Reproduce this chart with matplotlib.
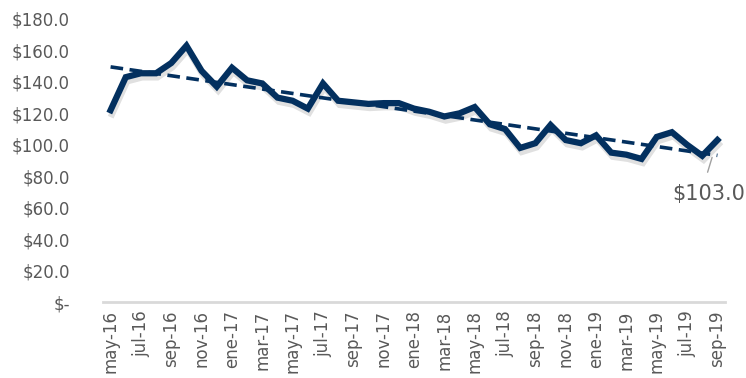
import numpy as np
import matplotlib.pyplot as plt
import matplotlib.patheffects as pe

# monthly series, may-16 .. sep-19
meses = ['ene', 'feb', 'mar', 'abr', 'may', 'jun', 'jul', 'ago', 'sep', 'oct', 'nov', 'dic']
labels = []
for yr in (16, 17, 18, 19):
    for m in meses:
        labels.append(f'{m}-{yr}')
labels = labels[4:4 + 41]

values = [122, 143, 145.5, 145.5, 152, 163, 147, 137, 149, 141,
          139, 130, 128, 123, 139, 128, 127, 126, 126.5, 126.5,
          123, 121, 118, 120, 124, 113, 110, 98, 101, 112.6,
          103, 101, 106, 95, 93.7, 91, 105, 108, 100, 93,
          103]

x = np.arange(len(values))
coef = np.polyfit(x, values, 1)
trend = np.polyval(coef, x)

navy = '#03305f'
grey = '#595959'

fig = plt.figure(figsize=(7.46, 3.78), dpi=100)
ax = fig.add_axes([103/746, 1 - 302/378, 622/746, 283/378])

ax.plot(x, values, color=navy, lw=4.5, solid_joinstyle='miter', zorder=3,
        path_effects=[pe.SimpleLineShadow(offset=(1, -3), shadow_color='k', alpha=0.12),
                      pe.Normal()])
ax.plot(x, trend, color=navy, lw=2.6, ls=(0, (3.5, 1.8)), zorder=4)

# label for last value, leader from the top of the text up to the line
ax.annotate(f'${values[-1]:.1f}', xy=(x[-1] - 0.35, values[-1] - 11),
            xytext=(x[-1] - 0.6, 68.5), color=grey, fontsize=15,
            ha='center', va='center',
            arrowprops=dict(arrowstyle='-', color='#a0a0a0', lw=1,
                            relpos=(0.44, 1.0), shrinkA=7, shrinkB=0),
            annotation_clip=False)

ax.set_xlim(-0.5, len(values) - 0.5)
ax.set_ylim(0, 180)
ax.set_yticks(np.arange(0, 181, 20))
ax.set_yticklabels(['$-'] + [f'${v:.1f}' for v in range(20, 181, 20)])
ax.set_xticks(x[::2])
ax.set_xticklabels(labels[::2], rotation=90)
ax.tick_params(length=0, labelsize=12, labelcolor=grey)
ax.tick_params(axis='y', pad=24)
ax.tick_params(axis='x', pad=6)
for s in ('top', 'right', 'left'):
    ax.spines[s].set_visible(False)
ax.spines['bottom'].set_color('#d9d9d9')
ax.spines['bottom'].set_linewidth(2)

fig.savefig('out.png', dpi=100)
